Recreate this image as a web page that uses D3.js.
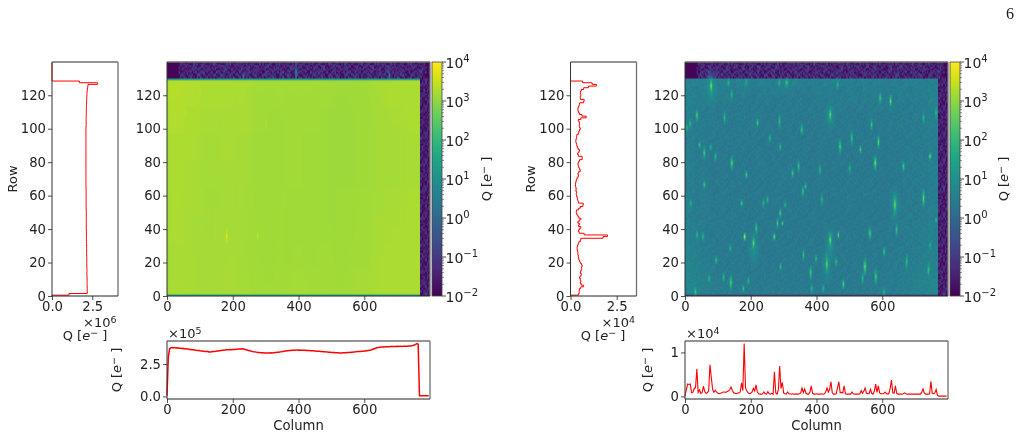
<!DOCTYPE html>
<html>
<head>
<meta charset="utf-8">
<script src="https://cdn.jsdelivr.net/npm/d3@7"></script>
<style>
html,body{margin:0;padding:0;background:#fff;}
#stage{position:relative;width:1023px;height:437px;overflow:hidden;}
canvas,svg{position:absolute;left:0;top:0;}
text{font-family:"DejaVu Sans",sans-serif;fill:#222;}
</style>
</head>
<body>
<div id="stage"><canvas id="raster" width="1023" height="437"></canvas><svg id="plot" width="1023" height="437"></svg></div>
<script>
// Tick values and labels
const rowTicks = [0, 20, 40, 60, 80, 100, 120];
const columnTicks = [0, 200, 400, 600];
const colorExponents = [-2, -1, 0, 1, 2, 3, 4];
const pageNumber = "6";

// Flat-field exposure: charge summed per row, in units of 1e6 e-
const flatRowProfile = [
0,1.06,2.19,2.19,2.19,2.19,2.18,2.18,2.18,2.18,2.18,2.18,2.17,2.17,2.17,2.17,2.17,2.17,2.16,2.16,
2.16,2.16,2.16,2.16,2.15,2.15,2.15,2.15,2.15,2.15,2.15,2.15,2.14,2.14,2.14,2.14,2.14,2.14,2.14,2.14,
2.13,2.13,2.13,2.13,2.13,2.13,2.13,2.13,2.13,2.13,2.13,2.13,2.12,2.12,2.12,2.12,2.12,2.12,2.12,2.12,
2.12,2.12,2.12,2.12,2.12,2.11,2.11,2.11,2.11,2.11,2.11,2.11,2.11,2.11,2.11,2.11,2.11,2.11,2.11,2.11,
2.11,2.11,2.11,2.11,2.11,2.11,2.11,2.11,2.11,2.11,2.11,2.11,2.11,2.11,2.11,2.11,2.11,2.11,2.11,2.11,
2.11,2.11,2.12,2.12,2.12,2.12,2.12,2.12,2.13,2.13,2.13,2.13,2.14,2.14,2.14,2.15,2.15,2.15,2.16,2.16,
2.17,2.17,2.18,2.19,2.20,2.22,2.24,2.83,1.70,0,0,0,0,0,0,0,0,0,0,0];

// Flat-field exposure: charge summed per column, every 4 columns, in units of 1e5 e-
const flatColumnProfile = [
0.05,3.05,3.68,3.76,3.77,3.76,3.75,3.74,3.76,3.72,3.72,3.70,3.71,3.68,3.68,3.66,3.67,3.63,3.62,3.60,
3.61,3.58,3.56,3.55,3.55,3.52,3.51,3.50,3.48,3.47,3.46,3.47,3.44,3.44,3.45,3.46,3.47,3.48,3.50,3.51,
3.53,3.54,3.56,3.57,3.58,3.60,3.60,3.61,3.62,3.61,3.62,3.62,3.63,3.64,3.66,3.67,3.66,3.68,3.66,3.64,
3.60,3.58,3.55,3.53,3.50,3.47,3.45,3.44,3.42,3.40,3.40,3.38,3.37,3.38,3.36,3.36,3.35,3.36,3.36,3.37,
3.36,3.38,3.39,3.40,3.41,3.42,3.44,3.45,3.47,3.48,3.50,3.52,3.53,3.54,3.55,3.56,3.56,3.57,3.58,3.58,
3.57,3.58,3.57,3.56,3.56,3.56,3.55,3.54,3.54,3.53,3.52,3.52,3.50,3.50,3.49,3.48,3.48,3.47,3.47,3.45,
3.45,3.44,3.43,3.42,3.41,3.40,3.40,3.39,3.38,3.37,3.37,3.36,3.36,3.36,3.37,3.37,3.38,3.39,3.39,3.40,
3.41,3.42,3.43,3.44,3.45,3.46,3.46,3.47,3.48,3.49,3.50,3.51,3.53,3.55,3.57,3.59,3.62,3.66,3.70,3.74,
3.77,3.78,3.80,3.81,3.82,3.82,3.83,3.83,3.84,3.84,3.85,3.85,3.85,3.86,3.86,3.87,3.86,3.87,3.87,3.86,
3.87,3.87,3.87,3.88,3.89,3.90,3.92,3.94,3.97,4.02,4.08,4.03,0.05,0.05,0.05,0.05,0.05,0.05,0.05,0.05];

// Dark exposure: charge summed per row, in units of 1e4 e-
const darkRowProfile = [
0,0.43,0.47,0.47,0.49,0.56,0.71,0.58,0.53,0.56,0.53,0.49,0.56,0.58,0.53,0.56,0.60,0.60,0.63,0.60,
0.53,0.49,0.45,0.43,0.42,0.40,0.40,0.38,0.36,0.36,0.38,0.42,0.45,0.53,0.56,1.76,2.00,0.74,0.47,0.43,
0.49,0.56,0.43,0.49,0.40,0.47,0.56,0.45,0.40,0.34,0.31,0.33,0.43,0.53,0.67,0.69,0.43,0.40,0.38,0.36,
0.33,0.31,0.33,0.29,0.31,0.29,0.27,0.27,0.29,0.31,0.34,0.40,0.43,0.40,0.45,0.53,0.49,0.45,0.42,0.40,
0.43,0.49,0.63,0.63,0.43,0.38,0.45,0.49,0.42,0.38,0.34,0.33,0.29,0.29,0.31,0.33,0.34,0.42,0.45,0.49,
0.53,0.49,0.47,0.49,0.47,0.42,0.56,0.85,0.62,0.49,0.43,0.40,0.40,0.43,0.47,0.49,0.71,0.74,0.53,0.53,
0.56,0.53,0.54,0.58,0.71,0.98,1.40,1.17,0.65,0,0,0,0,0,0,0,0,0,0,0];

// Dark exposure: charge summed per column, every 4 columns, in e-
const darkColumnProfile = [
100,1500,2800,2700,2800,800,900,1800,2000,6200,900,1500,700,800,2300,1100,700,800,1300,7200,
4300,1600,900,1400,1000,700,600,700,800,1000,1000,900,1100,1200,1500,2100,1400,800,700,600,
700,800,1000,3100,1300,12000,2000,1200,800,600,700,1000,1800,1200,2600,1000,600,500,500,600,
1000,600,500,1100,600,500,700,500,5600,800,500,1500,6900,1800,3200,800,600,500,1000,600,
600,500,600,500,500,500,500,600,800,1900,900,1700,700,500,500,1000,2400,700,500,500,
600,500,500,500,600,500,600,1000,1900,1000,1600,3300,800,500,500,600,2000,3300,800,900,
800,2400,600,500,500,500,500,1000,600,500,500,500,500,600,1300,700,1200,1900,700,600,
600,1600,700,500,1200,2800,900,2400,800,600,600,600,1000,700,500,600,1800,3700,800,700,
2400,700,500,500,500,500,600,800,600,500,500,500,500,500,500,500,500,500,500,500,
900,1700,800,500,500,500,600,3400,700,600,800,1600,200,50,50,50,50,50,50,50];

// Overscan band above the exposed area (top row first), one digit per cell
const flatBand = [
"0001423514236214524631524136253142635241532634152436152435263142531420",
"0003241625314263514236152463152436251435261345263142536142635241362131",
"0002514362415326153426351426354126345216354261352416352461532641523410",
"0003142536241526341526345162436152643152634152346152436251634251423621",
"0002415263154263514263152463514263512436152634152463152436152463152310",
"0001324152431524361524315243615243162534162534126351423615243612534121"];
const darkBand = [
"0001524316352415263142536214635241632514362514326154236152436152431520",
"0002416352143625143625416325146352416352143625416352415236415263241431",
"0003251436251436251426351426351462351426351462351426315246315243615210",
"0001436251642351642531462531462351642531642351462351426351426315243621",
"0002514326154326154326154236154236145236145263145263142563142563142310",
"0001325143261543261542361542361542631542631452631452631452364152361421"];

// Dark columns to the right of the exposed area (top row first)
const flatMargin = ["132413","214231","312142","123214","231321","142132","213241","321412","132124","241312","124231","312314","213142","134213","221341","312412","143122","231214","124321","312142","213421","142312","321134","132241","214312","123423"];
const darkMargin = ["213142","132314","241213","312141","123324","214132","132241","321314","143122","212431","134212","321143","214321","132412","241123","313214","122341","231412","142213","314132","123241","241312","312124","143231","221314","132423"];

// Pixel-to-pixel grain of the sensor readout, one digit per cell
const sensorGrain = [
"472916385027461938502746193058",
"815340796241853079624185307962",
"269481537096248153709624815370",
"603972418560397241856039724185",
"148527036914852703691485270369",
"937160482593716048259371604825",
"582794160358279416035827941603",
"016438925701643892570164389257",
"743059281674305928167430592816",
"391876504239187650423918765042",
"658201749365820174936582017493",
"204763918520476391852047639185",
"876415032987641503298764150329",
"439582607143958260714395826071",
"125097846312509784631250978463",
"760348291576034829157603482915"];

// Flat exposure: brightness offset over the frame (top row first), one digit per block
const flatShade = [
"987654433322344",
"876554333222334",
"765543332222333",
"655443332222333",
"554433322233344",
"544433322233444",
"444433322333444",
"444433333334444"];

// Dark exposure: sky level over the frame (top row first), one digit per block
const darkLevels = [
"76565465547564656546576545465654545645654546565466",
"65464545434543453545443434545434543545434454354565",
"76554534543432434343434323434343453434534354454576",
"65453434323434323243234343432343234343434343434465",
"54434323434323432323232323234323232343232334343454",
"65443432323234323232323223232323423232324343434565",
"54343423232323232322323232323232323232323234343454",
"45343232323232223232232232232322322323223232343445",
"54343232232322322232232322322322232232322323434354",
"54343223232222322322222322322232223223223233434354",
"65343232222322232222322222222322232222322334343465",
"54343223223222232223222322322222322222322323434354",
"45343232232322222232222222322222222232222234343445",
"54343223222222322222232222222322222322222323434354",
"54343232232222222232222322222222322222232323434454",
"65443223222322222222322222222222322222222234343465",
"54343232232222232222222223222222222322222323434354",
"65443323222322222322222222232222222222323234344465",
"65443232323222322222322222222223222322223233434565",
"65443323232323222322222232222222322222323234344565",
"76544332323232322232223222322232223223232343444576",
"76544333232323232223232223232223232323233343445676",
"87654433332323232323232323232323232323233434455676",
"87655434333323232323233232323233323232334344556777",
"88765443433333233332333323323333233333334445567788",
"88765544434333333333333333333333333333434445567888"];

// Bright specks in the flat frame: [column, row, half length, log10 peak, half width]
const flatStreaks = [
[181,35,4,3.75,4],[275,35,3,3.45,3],[100,122,3,3.42,3],[55,108,3,3.42,3],[300,102,3,3.3,3],
[392,133,5,1.6,3],[676,131,3,1.3,3],[232,131,2,0.6,4]];

// Tracks in the dark frame: [column, row, half length, log10 peak, half width]
const darkStreaks = [
[79,125,6,3.15,6],[79,124,11,1.15,22],[36,107.5,3.5,2.9,5],[15,102.5,3,2.3,5],[120,106,4,2.2,5],[142,120,3.5,2.1,5],
[132,127,3,1.9,5],[185,127,3,1.8,5],[286,127,3,2.1,5],[309,127,3,2.4,7],[287,104,5,2.1,5],[220,103,2.5,2.4,5],
[441,108,5,3.0,6],[441,107,9,1.1,18],[464,126,3,2,5],[593,118,3.5,2.6,5],[625,116,3.5,3.1,5],[355,99,3.5,2.5,5],[567,102,3.5,2.3,5],
[507,94,5,2.4,5],[588,91.6,4,2.9,5],[471,89,5,2.6,6],[533,87,2.5,2.6,5],[289,88.5,2,2.5,5],[58,85,4,2.6,5],
[44,89.7,2,2.4,5],[78,88.5,2,2.2,5],[142,79,4.5,2.8,6],[186,72,2.5,2.6,5],[578,79,5,3.1,6],[664,77,3.5,2.4,5],
[745,83,2,3.1,5],[345,77,4,2.3,5],[327,73,3,2.4,5],[410,75,3.5,2.1,5],[763,109,4,2.2,5],[501,76,3.5,2.1,5],
[258,94,2.5,2.2,5],[725,106,3.5,2,5],[92,83,3,2.1,5],[5,100,2.5,2.1,5],
[58,66,2.5,2.5,5],[358,62,3.5,2.5,5],[366,65,2,2.2,5],[172,55,2,2.6,5],[238,55,3,2.1,5],[250,57,2.5,2.1,5],
[289,49,3,2.7,5],[281,43,3,2.5,5],[296,43,1.5,2.6,4],[304,54,2,2.1,5],[638,54,7,3.0,7],[638,54,12,1.1,18],[725,58,6,2.7,6],
[416,57,4,2.1,5],[562,37,4,2.7,6],[643,39,4,2.3,5],[216,40,4,2.6,5],[208,31,5,2.9,6],[208,28,12,1.05,20],[181,35,2.5,3.95,5],
[271,35,2.5,3.1,5],[441,33,5.5,3.1,6],[441,30,12,1.1,18],[466,36,2,3,4],[36,36,2.5,2.3,5],[54,35,2.5,2.2,5],
[431,18.5,6,3.0,6],[431,18,12,1.1,18],[547,17,5.5,3.1,6],[382,13.5,4.5,2.7,5],[398,22,2.5,2.2,5],[360,24,4,2.2,5],[459,20,3,2.3,5],
[605,26,3,2.5,5],[674,20,5,2.3,5],[580,11,5,2.6,6],[139,7.6,5,2.8,6],[117,10.5,3,2.2,5],[73,10,2.5,2.2,5],
[94,21,2.5,2.4,5],[31,2,3,2.4,6],[481,6.6,3,2.9,5],[177,4,2.5,2.3,5],[192,8.5,2.5,2.1,5],[137,28,2,2.2,5],
[740,15,4,2.2,5],[385,4,3,2.1,5],[605,2,2.5,2.2,5],[540,10,4,2.1,5],[763,45,1.5,2.2,5],[745,30,2,2,5],
[17,55,2.5,2.1,5],[290,17,2.5,2.1,5],[420,4,2.5,2,5]];

// Frame geometry in canvas pixels
const rasterCols = 800, rasterRows = 140, exposedCols = 770, exposedRows = 130;
const frameTop = 62, frameBottom = 296, stripTop = 341, stripBottom = 399;
const panels = [
  {name:"flat", profileX:[52,118], frameX:[167,430], barX:[432,442], rowMax:4.1e6, rowScale:1e6, rowData:flatRowProfile,
   colData:flatColumnProfile, colScale:1e5, colDomain:[-2e4,4.28e5], colTicks:[0,2.5e5], colTickFmt:d=>(d/1e5).toFixed(1),
   rowTicksX:[0,2.5e6], rowTickFmt:d=>(d/1e6).toFixed(1), rowExp:"6", colExp:"5",
   rowLabelX:12, profLabelX:85, stripLabelX:117, barLabelX:491, lineWidth:1.5},
  {name:"dark", profileX:[570.5,636.5], frameX:[685,948], barX:[950,960], rowMax:3.57e4, rowScale:1e4, rowData:darkRowProfile,
   colData:darkColumnProfile, colScale:1, colDomain:[-600,12600], colTicks:[0,1e4], colTickFmt:d=>String(d/1e4),
   rowTicksX:[0,2.5e4], rowTickFmt:d=>(d/1e4).toFixed(1), rowExp:"4", colExp:"4",
   rowLabelX:530, profLabelX:603, stripLabelX:648, barLabelX:1008, lineWidth:1.1}
];

const svg = d3.select("#plot");
const ctx = document.getElementById("raster").getContext("2d");
const colour = d3.scaleSequentialLog(d3.interpolateViridis).domain([1e-2, 1e4]).clamp(true);

function grainAt(r, c) {
  const s = sensorGrain[r % sensorGrain.length];
  return +s[Math.floor(c / 5) % s.length] - 4.5;
}

// Fill a 800x140 grid of log10 charge for one exposure
function buildGrid(panel) {
  const g = new Float32Array(rasterCols * rasterRows);
  const band = panel.name === "flat" ? flatBand : darkBand;
  const margin = panel.name === "flat" ? flatMargin : darkMargin;
  for (let r = 0; r < rasterRows; r++) {
    for (let c = 0; c < rasterCols; c++) {
      let v;
      if (r >= exposedRows) {
        const s = band[Math.min(band.length - 1, Math.floor((rasterRows - 1 - r) / (rasterRows - exposedRows) * band.length))];
        const d = +s[Math.min(s.length - 1, Math.floor(c / rasterCols * s.length))];
        v = d === 0 || c < 34 ? -1.95 : -1.75 + 0.11 * d + grainAt(r, c) * 0.11;
      } else if (c >= exposedCols) {
        const s = margin[Math.floor((exposedRows - 1 - r) / exposedRows * margin.length)];
        v = -1.75 + 0.11 * +s[Math.floor((c - exposedCols) / (rasterCols - exposedCols) * s.length)] + grainAt(r, c) * 0.1;
      } else if (panel.name === "flat") {
        const s = flatShade[Math.floor((exposedRows - 1 - r) / exposedRows * flatShade.length)];
        const off = (+s[Math.floor(c / exposedCols * s.length)] - 3) * 0.02;
        const q = Math.max(flatColumnProfile[Math.floor(c / 4)], 3.2) * 1e5 / 240;
        const rowGain = Math.min(1.05, Math.max(0.95, flatRowProfile[r] / 2.13));
        v = Math.log10(q * rowGain) + off;
        if (r === 129) v = 1.3;
        if (r === 0) v = 1.8;
      } else {
        const s = darkLevels[Math.floor((exposedRows - 1 - r) / exposedRows * darkLevels.length)];
        v = 0.3 + 0.055 * +s[Math.floor(c / exposedCols * s.length)] + grainAt(r, c) * 0.03;
        if (r === 0) v = -0.5;
      }
      g[r * rasterCols + c] = Math.max(-2, v);
    }
  }
  const streaks = panel.name === "flat" ? flatStreaks : darkStreaks;
  streaks.forEach(([col, row, halfLen, peak, halfWidth]) => {
    for (let r = Math.max(0, Math.floor(row - halfLen)); r <= Math.min(rasterRows - 1, Math.ceil(row + halfLen)); r++) {
      for (let c = Math.max(0, Math.floor(col - halfWidth)); c <= Math.min(rasterCols - 1, Math.ceil(col + halfWidth)); c++) {
        const t = Math.max(0, 1 - Math.abs(r - row) / (halfLen + 0.5)) * Math.max(0, 1 - Math.abs(c - col) / (halfWidth + 0.5));
        const i = r * rasterCols + c;
        g[i] = Math.max(g[i], g[i] + (peak - g[i]) * t);
      }
    }
  });
  return g;
}

function drawFrame(panel, x, y) {
  const grid = buildGrid(panel);
  const off = document.createElement("canvas");
  off.width = rasterCols; off.height = rasterRows;
  const octx = off.getContext("2d");
  const img = octx.createImageData(rasterCols, rasterRows);
  for (let r = 0; r < rasterRows; r++) {
    for (let c = 0; c < rasterCols; c++) {
      const rgb = d3.rgb(colour(Math.pow(10, grid[r * rasterCols + c])));
      const i = ((rasterRows - 1 - r) * rasterCols + c) * 4;
      img.data[i] = rgb.r; img.data[i + 1] = rgb.g; img.data[i + 2] = rgb.b; img.data[i + 3] = 255;
    }
  }
  octx.putImageData(img, 0, 0);
  ctx.imageSmoothingEnabled = true;
  ctx.imageSmoothingQuality = "high";
  ctx.drawImage(off, x(0), y(rasterRows), x(rasterCols) - x(0), y(0) - y(rasterRows));
}

function drawColourBar(panel) {
  const [x0, x1] = panel.barX;
  const y = d3.scaleLog().domain([1e-2, 1e4]).range([frameBottom, frameTop]);
  for (let py = frameTop; py < frameBottom; py++) {
    ctx.fillStyle = colour(y.invert(py + 0.5));
    ctx.fillRect(x0, py, x1 - x0, 1);
  }
  const g = svg.append("g");
  g.append("rect").attr("x", x0).attr("y", frameTop).attr("width", x1 - x0).attr("height", frameBottom - frameTop)
    .attr("fill", "none").attr("stroke", "#444").attr("stroke-width", 0.8);
  colorExponents.forEach(e => {
    const py = y(Math.pow(10, e));
    g.append("line").attr("x1", x1).attr("x2", x1 + 4).attr("y1", py).attr("y2", py).attr("stroke", "#222").attr("stroke-width", 0.8);
    const label = g.append("text").attr("x", x1 + 3.5).attr("y", py + 5.5).attr("font-size", 14);
    label.append("tspan").text("10");
    label.append("tspan").attr("dy", -5.5).attr("font-size", 10).text(e < 0 ? "\u2212" + (-e) : String(e));
    if (e < 4) for (let m = 2; m < 10; m++) {
      const my = y(m * Math.pow(10, e));
      g.append("line").attr("x1", x1).attr("x2", x1 + 2).attr("y1", my).attr("y2", my).attr("stroke", "#222").attr("stroke-width", 0.5);
    }
  });
  qLabel(g, panel.barLabelX, (frameTop + frameBottom) / 2, -90);
}

// "Q [e-]" with an italic e and a superscript minus
function qLabel(parent, x, y, angle) {
  const t = parent.append("text").attr("text-anchor", "middle").attr("font-size", 13)
    .attr("transform", `translate(${x},${y}) rotate(${angle})`);
  t.append("tspan").text("Q [");
  t.append("tspan").attr("font-style", "italic").text("e");
  t.append("tspan").attr("dy", -4.5).attr("font-size", 9.5).text("\u2212");
  t.append("tspan").attr("dy", 4.5).text(" ]");
}

function exponentLabel(parent, x, y, exp) {
  const t = parent.append("text").attr("x", x).attr("y", y).attr("font-size", 13);
  t.append("tspan").text("\u00d710");
  t.append("tspan").attr("dy", -4.5).attr("font-size", 9.5).text(exp);
}

// Spines: dark on the axis sides, grey on the open sides
function frameBox(g, x0, x1, y0, y1) {
  const side = (a, b, c, d, col, w) => g.append("line").attr("x1", a).attr("y1", b).attr("x2", c).attr("y2", d)
    .attr("stroke", col).attr("stroke-width", w);
  side(x0, y0, x1, y0, "#707070", 1.3);
  side(x1, y0, x1, y1, "#707070", 1.3);
  side(x0, y0, x0, y1, "#333", 1);
  side(x0, y1, x1, y1, "#222", 1);
}

function styleAxis(g) {
  g.select(".domain").remove();
  g.selectAll("line").attr("stroke", "#222").attr("stroke-width", 0.8);
  g.selectAll("text").attr("font-size", 13.2).attr("font-family", '"DejaVu Sans",sans-serif').attr("fill", "#222");
}

panels.forEach(panel => {
  const g = svg.append("g");

  // Row profile
  const px = d3.scaleLinear().domain([0, panel.rowMax]).range(panel.profileX);
  const py = d3.scaleLinear().domain([0, rasterRows]).range([frameBottom, frameTop - 0.2]);
  const stepPts = panel.rowData.flatMap((v, i) => [[v * panel.rowScale, Math.max(0, i - 0.5)], [v * panel.rowScale, i + 0.5]]);
  const rowLine = d3.line().x(d => px(d[0])).y(d => py(d[1]));
  g.append("path").attr("d", rowLine(stepPts)).attr("fill", "none").attr("stroke", "#ff0000").attr("stroke-width", 1);
  frameBox(g, panel.profileX[0], panel.profileX[1], frameTop, frameBottom);
  styleAxis(g.append("g").attr("transform", `translate(${panel.profileX[0]},0)`)
    .call(d3.axisLeft(py).tickValues(rowTicks).tickSize(4).tickPadding(2).tickFormat(d3.format("d"))));
  styleAxis(g.append("g").attr("transform", `translate(0,${frameBottom})`)
    .call(d3.axisBottom(px).tickValues(panel.rowTicksX).tickSize(4).tickPadding(2).tickFormat(panel.rowTickFmt)));
  g.append("text").attr("text-anchor", "middle").attr("font-size", 13)
    .attr("transform", `translate(${panel.rowLabelX + 5},${(frameTop + frameBottom) / 2}) rotate(-90)`).text("Row");
  exponentLabel(g, panel.profileX[1] - 35, 327, panel.rowExp);
  qLabel(g, panel.profLabelX, 340, 0);

  // Frame image
  const fx = d3.scaleLinear().domain([0, rasterCols]).range(panel.frameX);
  const fy = py;
  drawFrame(panel, fx, fy);
  frameBox(g, panel.frameX[0], panel.frameX[1], frameTop, frameBottom);
  styleAxis(g.append("g").attr("transform", `translate(${panel.frameX[0]},0)`)
    .call(d3.axisLeft(fy).tickValues(rowTicks).tickSize(4).tickPadding(2).tickFormat(d3.format("d"))));
  styleAxis(g.append("g").attr("transform", `translate(0,${frameBottom})`)
    .call(d3.axisBottom(fx).tickValues(columnTicks).tickSize(4).tickPadding(2).tickFormat(d3.format("d"))));

  drawColourBar(panel);

  // Column profile
  const sy = d3.scaleLinear().domain(panel.colDomain).range([stripBottom, stripTop]);
  const colLine = d3.line().x((d, i) => fx(i * 4)).y(d => sy(d * panel.colScale));
  g.append("path").attr("d", colLine(panel.colData)).attr("fill", "none").attr("stroke", "#ff0000").attr("stroke-width", panel.lineWidth);
  frameBox(g, panel.frameX[0], panel.frameX[1], stripTop, stripBottom);
  styleAxis(g.append("g").attr("transform", `translate(${panel.frameX[0]},0)`)
    .call(d3.axisLeft(sy).tickValues(panel.colTicks).tickSize(4).tickPadding(2).tickFormat(panel.colTickFmt)));
  styleAxis(g.append("g").attr("transform", `translate(0,${stripBottom})`)
    .call(d3.axisBottom(fx).tickValues(columnTicks).tickSize(4).tickPadding(2).tickFormat(d3.format("d"))));
  g.append("text").attr("x", (panel.frameX[0] + panel.frameX[1]) / 2).attr("y", 430).attr("text-anchor", "middle")
    .attr("font-size", 13.2).text("Column");
  exponentLabel(g, panel.frameX[0] + 1, 338, panel.colExp);
  qLabel(g, panel.stripLabelX + 4, 370, -90);
});

svg.append("text").attr("x", 1006).attr("y", 19).attr("font-size", 16)
  .style("font-family", '"Liberation Serif",serif').text(pageNumber);
</script>
</body>
</html>
